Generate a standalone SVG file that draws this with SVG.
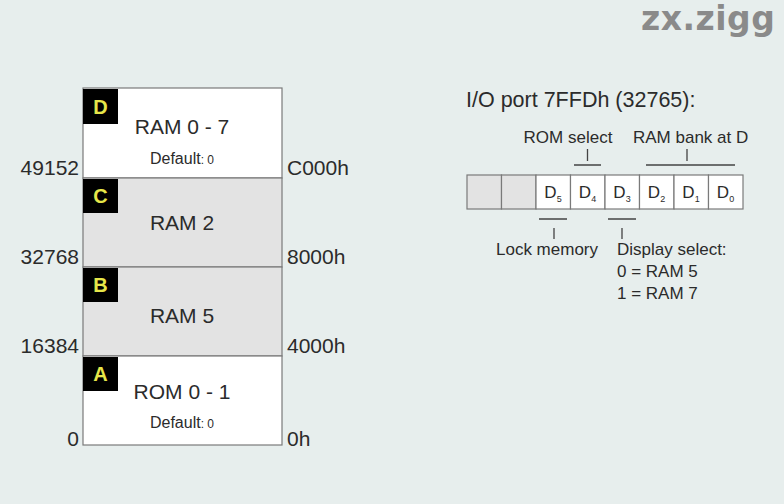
<svg xmlns="http://www.w3.org/2000/svg" width="784" height="504" viewBox="0 0 784 504">
<style>
text{font-family:"Liberation Sans",Arial,sans-serif;fill:#2b2b2b}
.big{font-size:21px}
.mid{font-size:17px}
.sm{font-size:16px}
.tiny{font-size:12px}
.ctr{text-anchor:middle}
.end{text-anchor:end}
.sec{stroke:#7a7a7a;stroke-width:1.2}
.white{fill:#ffffff}
.grey{fill:#e3e3e3}
.tag{fill:#000}
.tagt{font-size:20px;font-weight:bold;fill:#e6e64a;text-anchor:middle}
.ln{stroke:#444;stroke-width:1.3;fill:none}
.cell{stroke:#7a7a7a;stroke-width:1.2}
.sub{font-size:9px}
</style>
<rect width="784" height="504" fill="#e7eeed"/>
<text x="641" y="30" style="font-family:'DejaVu Sans',sans-serif;font-weight:bold;font-size:33px;fill:#8a8a8a;letter-spacing:0.5px">zx.zigg</text>

<g id="sectionD">
<rect class="sec white" x="83" y="88" width="199" height="90"/>
<rect class="tag" x="83" y="89" width="35" height="35"/>
<text class="tagt" x="100.5" y="114">D</text>
<text class="big ctr" x="182" y="134">RAM 0 - 7</text>
<text class="ctr" x="182" y="164"><tspan class="sm">Default</tspan><tspan class="tiny">: 0</tspan></text>
</g>
<g id="sectionC">
<rect class="sec grey" x="83" y="178" width="199" height="89"/>
<rect class="tag" x="83" y="179" width="35" height="34"/>
<text class="tagt" x="100.5" y="203">C</text>
<text class="big ctr" x="182" y="230">RAM 2</text>
</g>
<g id="sectionB">
<rect class="sec grey" x="83" y="267" width="199" height="89"/>
<rect class="tag" x="83" y="268" width="35" height="34"/>
<text class="tagt" x="100.5" y="292">B</text>
<text class="big ctr" x="182" y="323">RAM 5</text>
</g>
<g id="sectionA">
<rect class="sec white" x="83" y="356" width="199" height="89"/>
<rect class="tag" x="83" y="357" width="35" height="34"/>
<text class="tagt" x="100.5" y="381">A</text>
<text class="big ctr" x="182" y="399">ROM 0 - 1</text>
<text class="ctr" x="182" y="428"><tspan class="sm">Default</tspan><tspan class="tiny">: 0</tspan></text>
</g>

<g id="addresses">
<text class="big end" x="79" y="175">49152</text>
<text class="big end" x="79" y="264">32768</text>
<text class="big end" x="79" y="353">16384</text>
<text class="big end" x="79" y="446">0</text>
<text class="big" x="287" y="175">C000h</text>
<text class="big" x="287" y="264">8000h</text>
<text class="big" x="287" y="353">4000h</text>
<text class="big" x="287" y="446">0h</text>
</g>

<g id="port">
<text class="big" x="466" y="107" style="font-size:21.5px">I/O port 7FFDh (32765):</text>
<rect class="cell grey" x="467" y="175" width="34.5" height="34"/>
<rect class="cell grey" x="501.5" y="175" width="34.5" height="34"/>
<rect class="cell white" x="536" y="175" width="34.5" height="34"/>
<rect class="cell white" x="570.5" y="175" width="34.5" height="34"/>
<rect class="cell white" x="605" y="175" width="34.5" height="34"/>
<rect class="cell white" x="639.5" y="175" width="34.5" height="34"/>
<rect class="cell white" x="674" y="175" width="34.5" height="34"/>
<rect class="cell white" x="708.5" y="175" width="34.5" height="34"/>
<text class="mid ctr" x="553" y="198">D<tspan class="sub" dy="4">5</tspan></text>
<text class="mid ctr" x="587.5" y="198">D<tspan class="sub" dy="4">4</tspan></text>
<text class="mid ctr" x="622" y="198">D<tspan class="sub" dy="4">3</tspan></text>
<text class="mid ctr" x="656.5" y="198">D<tspan class="sub" dy="4">2</tspan></text>
<text class="mid ctr" x="691" y="198">D<tspan class="sub" dy="4">1</tspan></text>
<text class="mid ctr" x="725.5" y="198">D<tspan class="sub" dy="4">0</tspan></text>
</g>

<g id="connectors">
<path class="ln" d="M574 165H601M587.5 149V161"/>
<path class="ln" d="M646 165H735M687 149V161"/>
<path class="ln" d="M539 219H567M554 228V239"/>
<path class="ln" d="M608 219H636M622 228V239"/>
</g>

<g id="labels">
<text class="mid ctr" x="568" y="143">ROM select</text>
<text class="mid" x="633" y="143">RAM bank at D</text>
<text class="mid ctr" x="547" y="255">Lock memory</text>
<text class="mid" x="617" y="255">Display select:</text>
<text class="mid" x="617" y="277">0 = RAM 5</text>
<text class="mid" x="617" y="299">1 = RAM 7</text>
</g>
</svg>
